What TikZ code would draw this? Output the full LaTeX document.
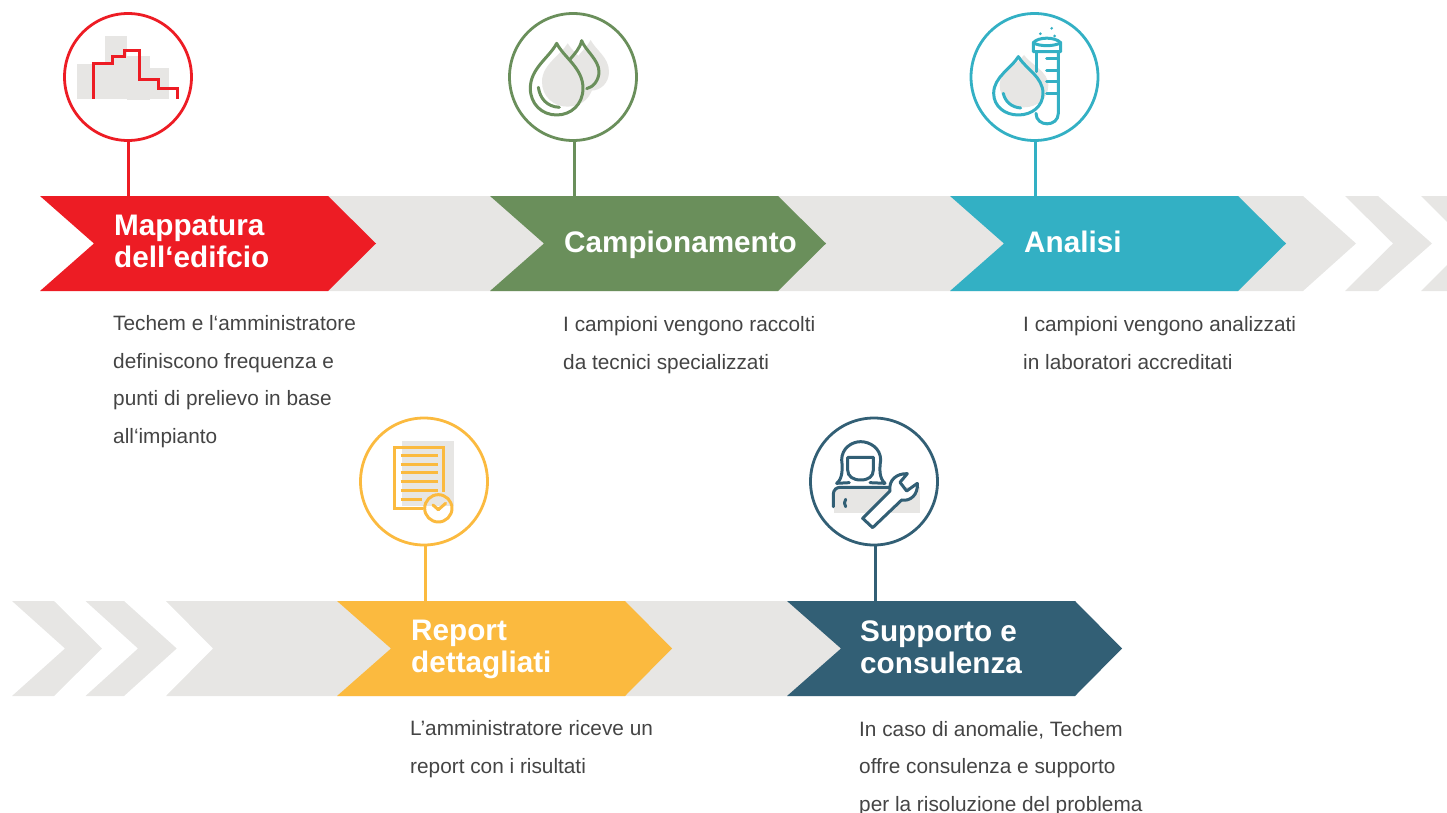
\documentclass[tikz,border=0pt]{standalone}
\usepackage{fontspec}
\setmainfont{Liberation Sans}
\definecolor{cred}{HTML}{ED1C24}
\definecolor{cgreen}{HTML}{6A8F5B}
\definecolor{cblue}{HTML}{33B0C4}
\definecolor{cyellow}{HTML}{FBBA3F}
\definecolor{cnavy}{HTML}{325F75}
\definecolor{cgrey}{HTML}{E7E6E4}
\definecolor{ctext}{HTML}{444444}
\tikzset{
  ring/.style={circle,draw=#1,fill=white,line width=2.8pt,minimum size=127pt,inner sep=0pt,outer sep=0pt},
  stem/.style={draw=#1,line width=3pt},
  band/.style={fill=cgrey,draw=none},
  banner/.style={fill=#1,draw=none},
  title/.style={anchor=base west,inner sep=0pt,text=white,align=left,font=\fontsize{29.7}{32}\selectfont\bfseries},
  body/.style={anchor=base west,inner sep=0pt,text=ctext,align=left,font=\fontsize{20.8}{37.5}\selectfont},
  ico/.style={draw=#1,line width=3pt,line cap=round,line join=round,fill=none},
  soft/.style={fill=cgrey,draw=none},
  zoomed/.style={x=0.3333pt,y=-0.3333pt}
}
\newcommand{\dropshape}[5]{% centre x, tip y, half width, widest y, bottom y
  (#1,#2) .. controls ({#1-0.28*#3},{#2+0.32*(#4-#2)}) and ({#1-#3},{#2+0.55*(#4-#2)}) .. ({#1-#3},#4)
  .. controls ({#1-#3},{#4+0.6*(#5-#4)}) and ({#1-0.55*#3},#5) .. (#1,#5)
  .. controls ({#1+0.55*#3},#5) and ({#1+#3},{#4+0.6*(#5-#4)}) .. ({#1+#3},#4)
  .. controls ({#1+#3},{#2+0.55*(#4-#2)}) and ({#1+0.28*#3},{#2+0.32*(#4-#2)}) .. (#1,#2) -- cycle}
\begin{document}
\begin{tikzpicture}[x=1pt,y=-1pt]
\useasboundingbox (0,0) rectangle (1447,813);
% ---- grey bands, row 1
\fill[band] (328,196) -- (1303,196) -- (1356,243.5) -- (1303,291) -- (328,291) -- cycle;
\fill[band] (1345,196) -- (1378,196) -- (1432,243.5) -- (1378,291) -- (1345,291) -- (1393,243.5) -- cycle;
\fill[band] (1421,196) -- (1447,196) -- (1447,222) -- cycle;
\fill[band] (1421,291) -- (1447,291) -- (1447,265) -- cycle;
% ---- grey bands, row 2
\fill[band] (12,601) -- (54,601) -- (102,648.5) -- (54,696) -- (12,696) -- (65,648.5) -- cycle;
\fill[band] (85.5,601) -- (124,601) -- (176.7,648.5) -- (124,696) -- (85.5,696) -- (138,648.5) -- cycle;
\fill[band] (166,601) -- (1075,601) -- (1075,696) -- (166,696) -- (213,648.5) -- cycle;
% ---- banners
\fill[banner=cred] (40,196) -- (328,196) -- (376,243.5) -- (328,291) -- (40,291) -- (94,243.5) -- cycle;
\fill[banner=cgreen] (490,196) -- (778,196) -- (826,243.5) -- (778,291) -- (490,291) -- (544,243.5) -- cycle;
\fill[banner=cblue] (950,196) -- (1238,196) -- (1286,243.5) -- (1238,291) -- (950,291) -- (1004,243.5) -- cycle;
\fill[banner=cyellow] (337,601) -- (625,601) -- (672,648.5) -- (625,696) -- (337,696) -- (391,648.5) -- cycle;
\fill[banner=cnavy] (787,601) -- (1075,601) -- (1122,648.5) -- (1075,696) -- (787,696) -- (841,648.5) -- cycle;
% ---- stem feet
\coordinate (f1) at (128.5,196);
\coordinate (f2) at (574,196);
\coordinate (f3) at (1035.5,196);
\coordinate (f4) at (425,601);
\coordinate (f5) at (875,601);
% ---- rings
\node[ring=cred] (c1) at (128,77) {};
\node[ring=cgreen] (c2) at (573,77) {};
\node[ring=cblue] (c3) at (1034.5,77) {};
\node[ring=cyellow] (c4) at (424,481.5) {};
\node[ring=cnavy] (c5) at (874,481.5) {};
\draw[stem=cred] (c1.south -| f1) -- (f1);
\draw[stem=cgreen] (c2.south -| f2) -- (f2);
\draw[stem=cblue] (c3.south -| f3) -- (f3);
\draw[stem=cyellow] (c4.south -| f4) -- (f4);
\draw[stem=cnavy] (c5.south -| f5) -- (f5);
% ---- icon 1: building
\begin{scope}[shift={(40,0)},zoomed]
\fill[soft] (110,192) rectangle (195,297);
\fill[soft] (195,108) rectangle (262,297);
\fill[soft] (262,168) rectangle (330,300);
\fill[soft] (330,205) rectangle (387,297);
\draw[ico=cred,line cap=butt,line join=miter] (162,297) -- (162,190) -- (218,190) -- (218,171) -- (255,171) -- (255,151) -- (298,151) -- (298,239) -- (356,239) -- (356,265) -- (414,265) -- (414,296);
\end{scope}
% ---- icon 2: two drops
\begin{scope}[shift={(490,0)},zoomed]
\fill[soft] \dropshape{233}{130}{77}{245}{320};
\fill[soft] \dropshape{302}{120}{55}{215}{272};
\draw[ico=cgreen] \dropshape{200}{130}{79}{265}{345};
\draw[ico=cgreen] (145,262) .. controls (150,295) and (170,320) .. (208,322);
\draw[ico=cgreen] (240,178) .. controls (255,160) and (270,145) .. (275,122) .. controls (285,150) and (327,180) .. (327,215) .. controls (327,240) and (310,262) .. (290,266);
\end{scope}
% ---- icon 3: drop and test tube
\begin{scope}[shift={(950,0)},zoomed]
\fill[soft] \dropshape{222}{165}{73}{255}{322};
\draw[ico=cblue] (260,215) -- (260,155);
\draw[ico=cblue] (250,155) -- (332,155) -- (332,128) .. controls (315,110) and (265,110) .. (250,128) -- cycle;
\draw[ico=cblue] (250,128) .. controls (265,140) and (315,140) .. (332,128);
\draw[ico=cblue] (325,155) -- (325,340) .. controls (325,382) and (258,382) .. (258,340);
\foreach \ty in {175,212,245,282} \draw[ico=cblue] (290,\ty) -- (325,\ty);
\fill[cblue] (271,101) circle (4.5) (305,85) circle (4.5) (314,108) circle (4.5);
\draw[ico=cblue] \dropshape{205}{170}{74}{280}{345};
\draw[ico=cblue] (160,280) .. controls (165,305) and (185,322) .. (212,324);
\end{scope}
% ---- icon 4: report
\begin{scope}[shift={(340,405)},zoomed]
\fill[soft] (186,108) rectangle (342,303);
\draw[ico=cyellow,line cap=butt,line join=miter] (248,311) -- (163,311) -- (163,128) -- (312,128) -- (312,260);
\foreach \ly in {152,178,204,231,258} \draw[ico=cyellow,line cap=butt] (182,\ly) -- (293,\ly);
\draw[ico=cyellow,line cap=butt] (182,285) -- (246,285);
\draw[ico=cyellow] (295,310) circle (41);
\draw[ico=cyellow] (279,300) -- (295,314) -- (317,295);
\fill[cyellow] (295,312) circle (6);
\end{scope}
% ---- icon 5: technician and wrench
\begin{scope}[shift={(790,405)},zoomed]
\fill[soft] (132,245) rectangle (390,324);
\draw[ico=cnavy] (140,235) .. controls (158,222) and (158,190) .. (155,165) .. controls (155,130) and (185,110) .. (212,110) .. controls (240,110) and (272,130) .. (272,165) .. controls (268,195) and (268,220) .. (285,235) -- (240,233);
\draw[ico=cnavy] (140,235) -- (178,233);
\draw[ico=cnavy] (173,157) -- (173,195) .. controls (173,215) and (190,225) .. (212,225) .. controls (235,225) and (250,215) .. (250,195) -- (250,157) -- cycle;
\draw[ico=cnavy] (130,305) -- (130,267) .. controls (130,255) and (140,247) .. (150,247) -- (300,247);
\draw[ico=cnavy] (167,283) .. controls (162,290) and (162,298) .. (167,305);
\fill[white] (218,340) -- (300,258) .. controls (295,225) and (320,205) .. (352,206) -- (330,232) -- (350,258) -- (382,235) .. controls (385,270) and (360,290) .. (335,285) -- (248,368) -- cycle;
\draw[ico=cnavy] (218,340) -- (300,258) .. controls (295,225) and (320,205) .. (352,206) -- (330,232) -- (350,258) -- (382,235) .. controls (385,270) and (360,290) .. (335,285) -- (248,368) -- cycle;
\end{scope}
% ---- banner titles
\node[title] (t1) at (114,267) {Mappatura\\dell‘edifcio};
\node[title] (t2) at (564,252) {Campionamento};
\node[title] (t3) at (1024,252) {Analisi};
\node[title] (t4) at (411,672) {Report\\dettagliati};
\node[title] (t5) at (860,673) {Supporto e\\consulenza};
% ---- body text
\node[body] (b1) at (113,443) {Techem e l‘amministratore\\definiscono frequenza e\\punti di prelievo in base\\all‘impianto};
\node[body] (b2) at (563,369) {I campioni vengono raccolti\\da tecnici specializzati};
\node[body] (b3) at (1023,369) {I campioni vengono analizzati\\in laboratori accreditati};
\node[body] (b4) at (410,773) {L’amministratore riceve un\\report con i risultati};
\node[body] (b5) at (859,811) {In caso di anomalie, Techem\\offre consulenza e supporto\\per la risoluzione del problema};
\end{tikzpicture}
\end{document}
